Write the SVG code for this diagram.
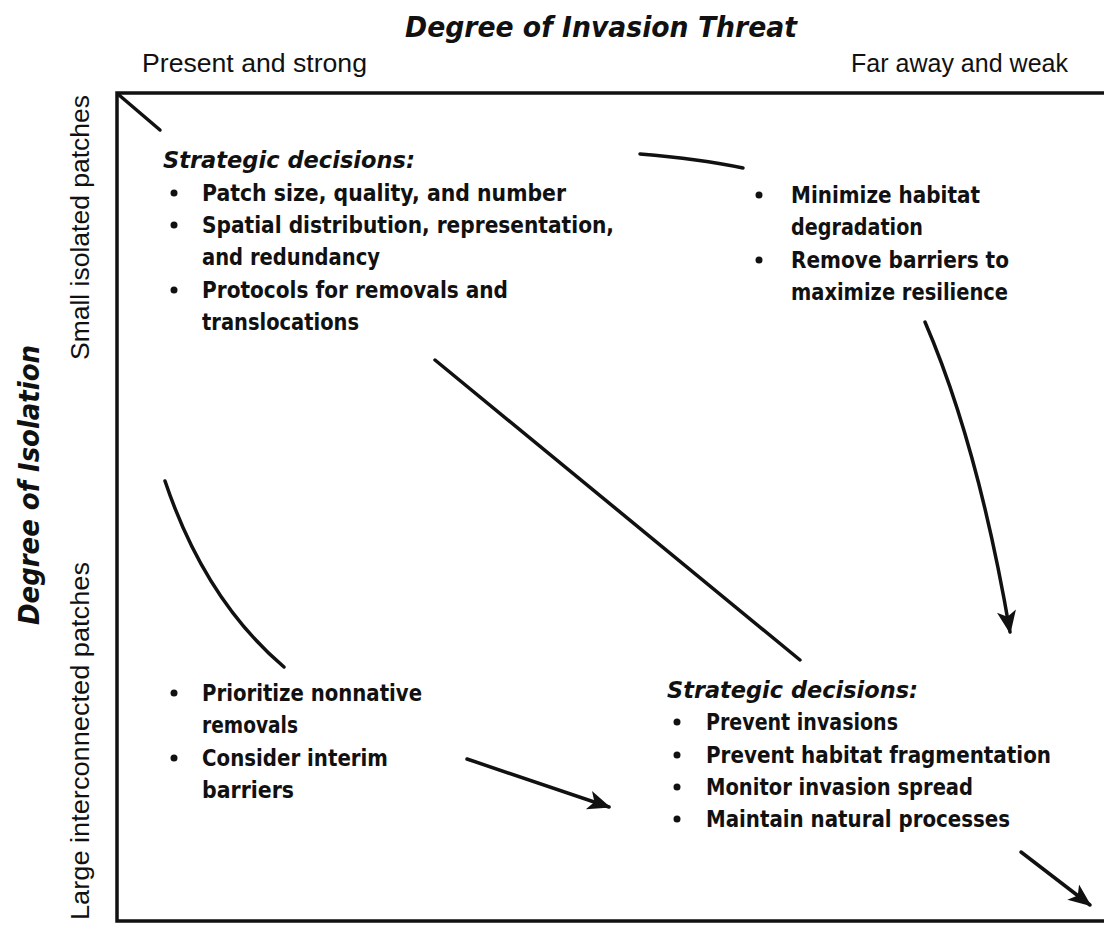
<svg xmlns="http://www.w3.org/2000/svg" width="1104" height="926" viewBox="0 0 1104 926">
<style>
.t{font-family:"DejaVu Sans","Liberation Sans",sans-serif;font-weight:bold;font-size:23px;fill:#111}
.h{font-family:"DejaVu Sans","Liberation Sans",sans-serif;font-weight:bold;font-style:italic;font-size:23px;fill:#111}
.ax{font-family:"Liberation Sans","DejaVu Sans",sans-serif;font-size:25px;fill:#111}
.tt{font-family:"DejaVu Sans","Liberation Sans",sans-serif;font-weight:bold;font-style:italic;font-size:28px;fill:#111}
.c{fill:none;stroke:#111;stroke-width:3.5;stroke-linecap:round}
.b{fill:#111}
</style>
<defs>
<marker id="ah" viewBox="0 0 12 10" refX="11" refY="5" markerWidth="7" markerHeight="5.5" orient="auto" markerUnits="strokeWidth">
<path d="M0,0 L12,5 L0,10 L3,5 z" fill="#111"/>
</marker>
</defs>
<rect width="1104" height="926" fill="#fff"/>

<g id="titles">
<text class="tt" x="405" y="37" textLength="392" lengthAdjust="spacingAndGlyphs">Degree of Invasion Threat</text>
<text class="ax" x="142" y="72" textLength="225" lengthAdjust="spacingAndGlyphs">Present and strong</text>
<text class="ax" x="851" y="72" textLength="217" lengthAdjust="spacingAndGlyphs">Far away and weak</text>
<text class="tt" transform="translate(39,625) rotate(-90)" textLength="280" lengthAdjust="spacingAndGlyphs">Degree of Isolation</text>
<text class="ax" transform="translate(89,360) rotate(-90)" textLength="265" lengthAdjust="spacingAndGlyphs">Small isolated patches</text>
<text class="ax" transform="translate(89,920) rotate(-90)" textLength="358" lengthAdjust="spacingAndGlyphs">Large  interconnected patches</text>
</g>

<g id="frame">
<path d="M1104,93 L117,93 L117,921 L1104,921" fill="none" stroke="#111" stroke-width="3.5"/>
</g>

<g id="node-top-left">
<text class="h" x="163" y="168" textLength="252" lengthAdjust="spacingAndGlyphs">Strategic decisions:</text>
<circle class="b" cx="174" cy="193" r="3.5"/>
<text class="t" x="202" y="201" textLength="364" lengthAdjust="spacingAndGlyphs">Patch size, quality, and number</text>
<circle class="b" cx="174" cy="225" r="3.5"/>
<text class="t" x="202" y="233" textLength="412" lengthAdjust="spacingAndGlyphs">Spatial distribution, representation,</text>
<text class="t" x="202" y="265" textLength="178" lengthAdjust="spacingAndGlyphs">and redundancy</text>
<circle class="b" cx="174" cy="290" r="3.5"/>
<text class="t" x="202" y="298" textLength="306" lengthAdjust="spacingAndGlyphs">Protocols for removals and</text>
<text class="t" x="202" y="330" textLength="157" lengthAdjust="spacingAndGlyphs">translocations</text>
</g>

<g id="node-top-right">
<circle class="b" cx="759" cy="195" r="3.5"/>
<text class="t" x="791" y="203" textLength="189" lengthAdjust="spacingAndGlyphs">Minimize habitat</text>
<text class="t" x="791" y="235" textLength="132" lengthAdjust="spacingAndGlyphs">degradation</text>
<circle class="b" cx="759" cy="260" r="3.5"/>
<text class="t" x="791" y="268" textLength="218" lengthAdjust="spacingAndGlyphs">Remove barriers to</text>
<text class="t" x="791" y="300" textLength="217" lengthAdjust="spacingAndGlyphs">maximize resilience</text>
</g>

<g id="node-bottom-left">
<circle class="b" cx="174" cy="693" r="3.5"/>
<text class="t" x="202" y="701" textLength="220" lengthAdjust="spacingAndGlyphs">Prioritize nonnative</text>
<text class="t" x="202" y="733" textLength="96" lengthAdjust="spacingAndGlyphs">removals</text>
<circle class="b" cx="174" cy="758" r="3.5"/>
<text class="t" x="202" y="766" textLength="186" lengthAdjust="spacingAndGlyphs">Consider interim</text>
<text class="t" x="202" y="798" textLength="92" lengthAdjust="spacingAndGlyphs">barriers</text>
</g>

<g id="node-bottom-right">
<text class="h" x="667" y="698" textLength="251" lengthAdjust="spacingAndGlyphs">Strategic decisions:</text>
<circle class="b" cx="677" cy="722" r="3.5"/>
<text class="t" x="706" y="730" textLength="192" lengthAdjust="spacingAndGlyphs">Prevent invasions</text>
<circle class="b" cx="677" cy="755" r="3.5"/>
<text class="t" x="706" y="763" textLength="345" lengthAdjust="spacingAndGlyphs">Prevent habitat fragmentation</text>
<circle class="b" cx="677" cy="787" r="3.5"/>
<text class="t" x="706" y="795" textLength="267" lengthAdjust="spacingAndGlyphs">Monitor invasion spread</text>
<circle class="b" cx="677" cy="819" r="3.5"/>
<text class="t" x="706" y="827" textLength="304" lengthAdjust="spacingAndGlyphs">Maintain natural processes</text>
</g>

<g id="connectors">
<path class="c" d="M119,95 L160,130"/>
<path class="c" d="M640,154 Q700,159 743,168"/>
<path class="c" d="M925,322 Q978,445 1010,632" marker-end="url(#ah)"/>
<path class="c" d="M435,360 L800,660"/>
<path class="c" d="M165,481 Q205,600 284,667"/>
<path class="c" d="M467,759 L609,807" marker-end="url(#ah)"/>
<path class="c" d="M1021,852 L1090,905" marker-end="url(#ah)"/>
</g>
</svg>
